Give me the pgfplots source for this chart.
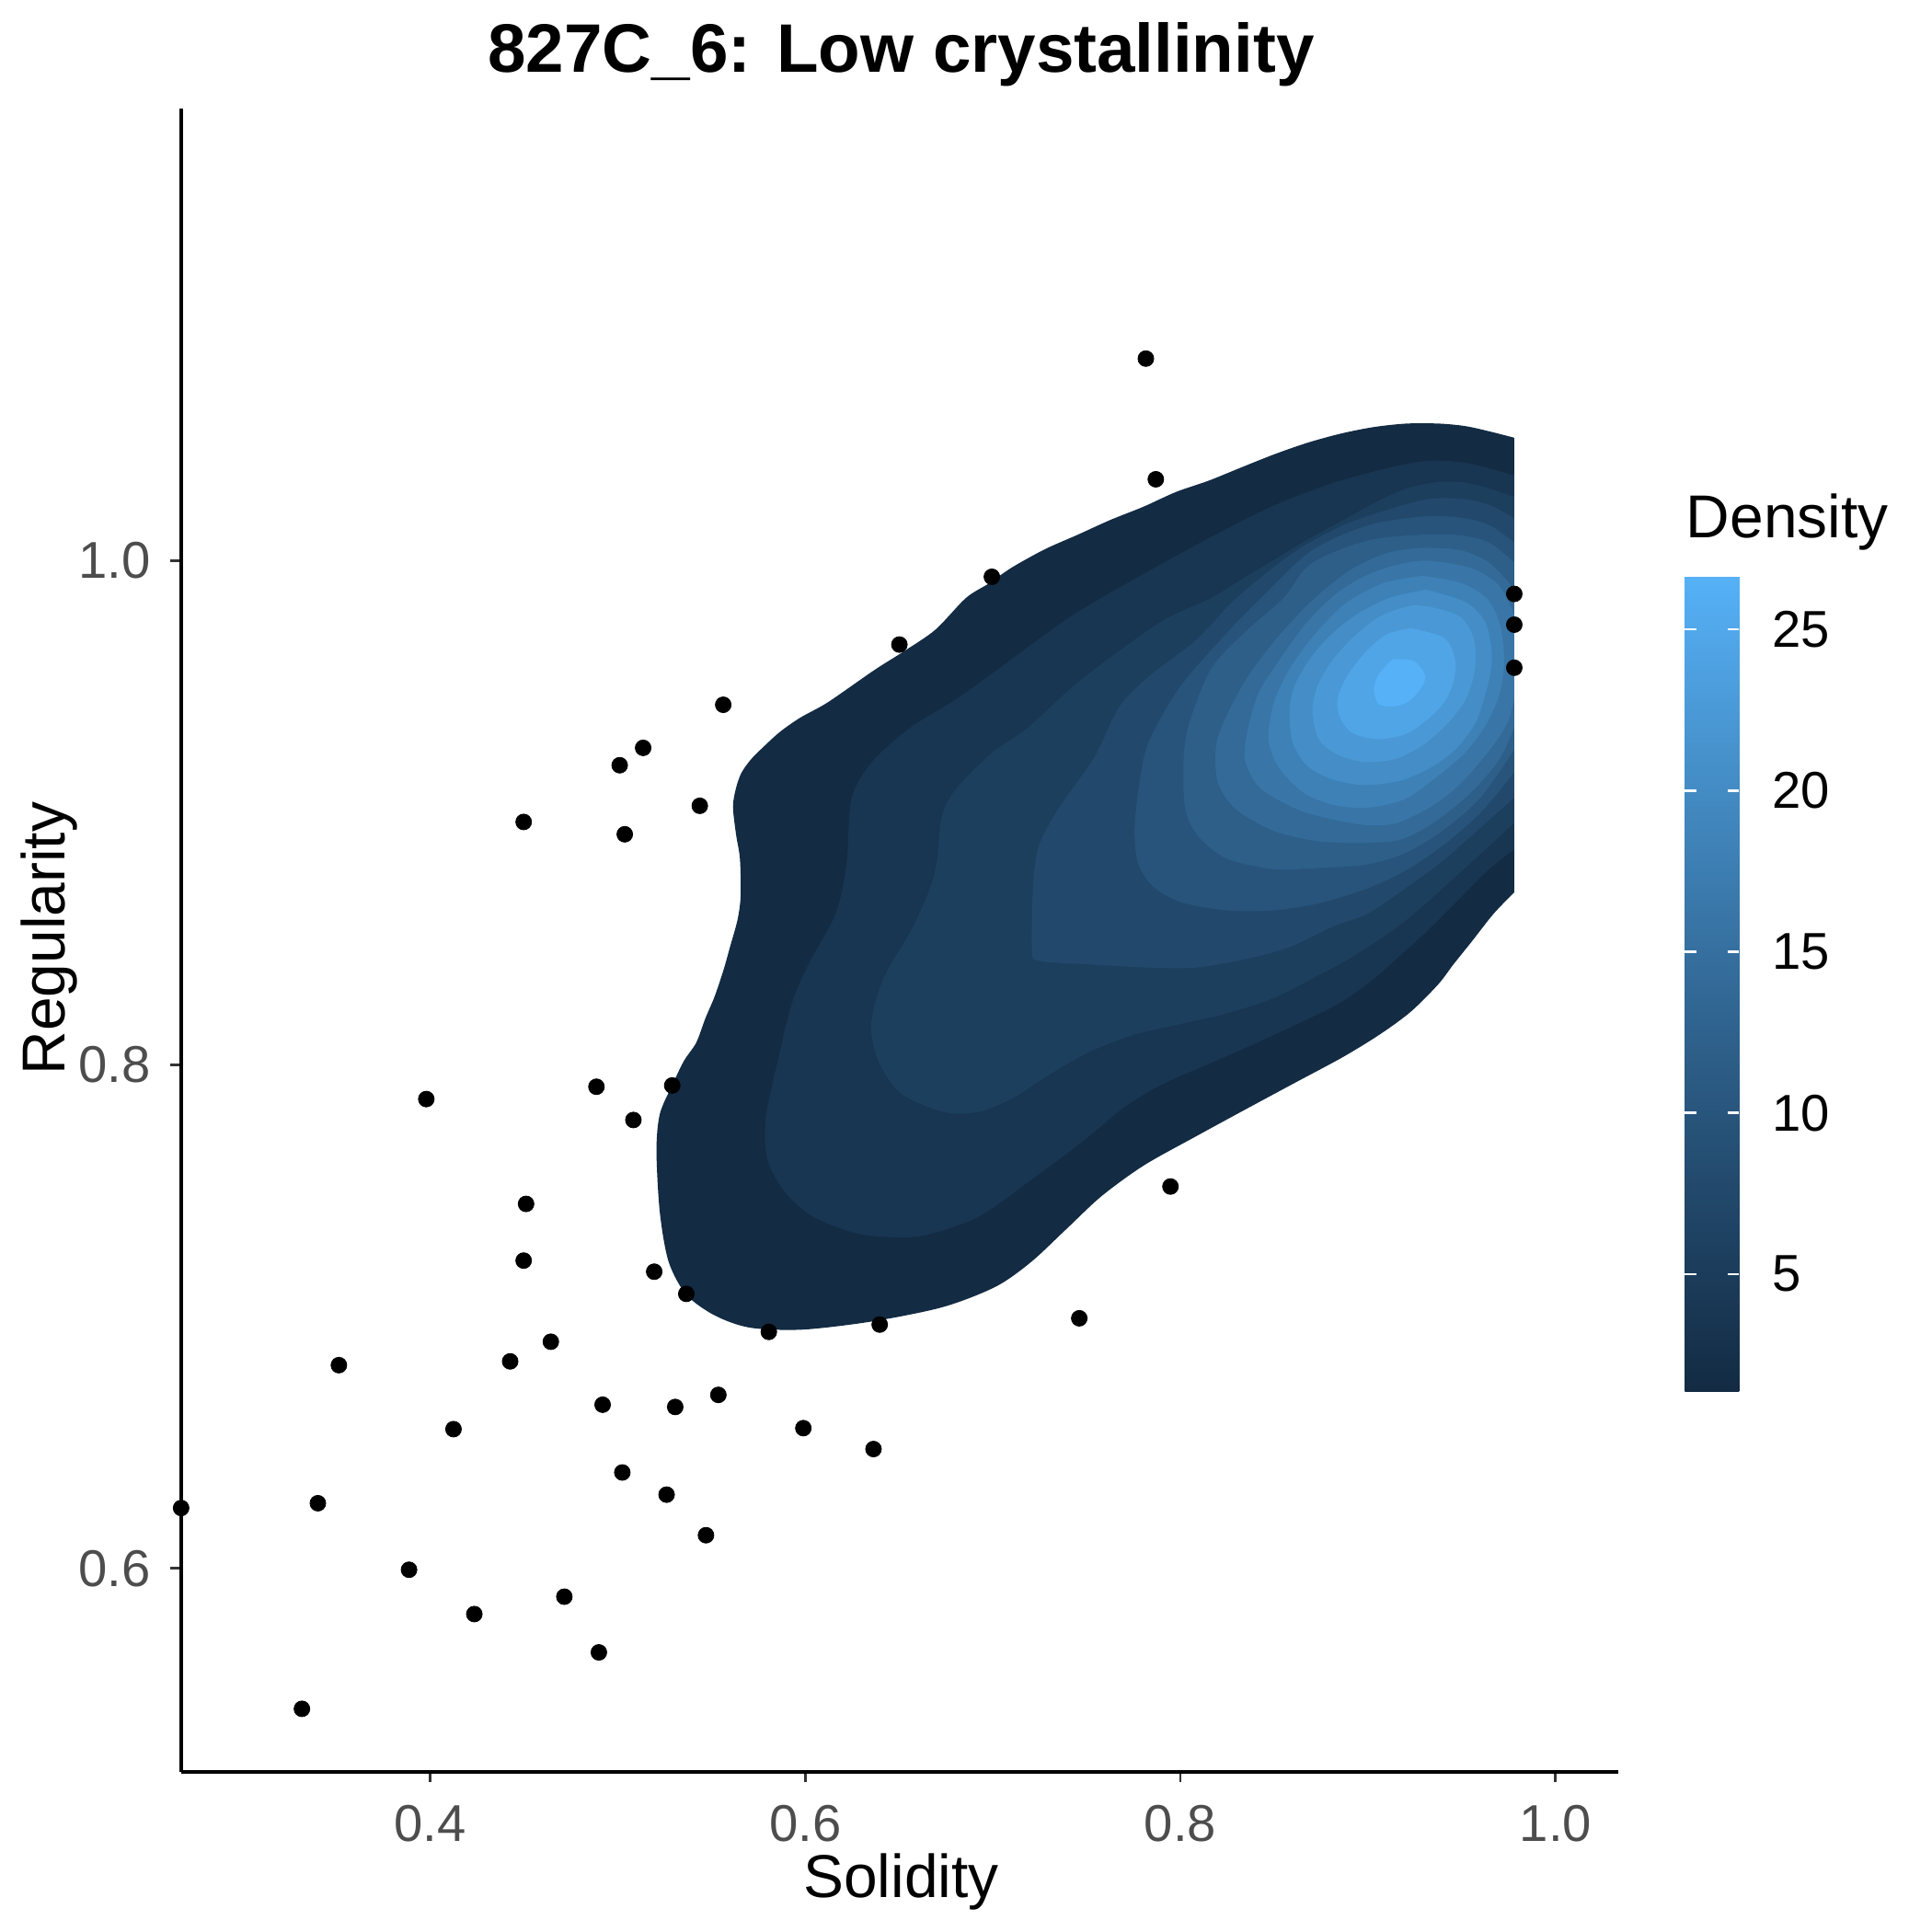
\documentclass[border=0pt]{standalone}
\usepackage{fontspec}
\setmainfont{Liberation Sans}
\usepackage{pgfplots}
\pgfplotsset{compat=1.18}
\definecolor{c0}{RGB}{19,43,67}
\definecolor{c1}{RGB}{24,53,81}
\definecolor{c2}{RGB}{29,63,94}
\definecolor{c3}{RGB}{34,73,108}
\definecolor{c4}{RGB}{40,84,123}
\definecolor{c5}{RGB}{45,95,137}
\definecolor{c6}{RGB}{51,106,152}
\definecolor{c7}{RGB}{57,118,167}
\definecolor{c8}{RGB}{62,129,183}
\definecolor{c9}{RGB}{68,141,198}
\definecolor{c10}{RGB}{74,153,214}
\definecolor{c11}{RGB}{80,165,231}
\definecolor{c12}{RGB}{86,177,247}
\definecolor{grey30}{RGB}{77,77,77}
\definecolor{grey20}{RGB}{51,51,51}
\begin{document}
\begin{tikzpicture}
\path[use as bounding box] (0,0) rectangle (504bp,504bp);
\begin{axis}[
  at={(47.25bp,41.79bp)}, anchor=south west,
  scale only axis, width=374.79bp, height=433.93bp,
  xmin=0.2673, xmax=1.0332, ymin=0.5193, ymax=1.1795,
  axis lines=left, axis line style={-, line width=0.9bp, black},
  axis on top,
  xtick={0.4,0.6,0.8,1.0}, xticklabels={0.4,0.6,0.8,1.0},
  ytick={0.6,0.8,1.0}, yticklabels={0.6,0.8,1.0},
  tick align=outside, major tick length=2.75bp,
  tick style={line width=0.7bp, color=grey20},
  xticklabel style={anchor=base, inner sep=0pt, yshift=-15.4bp, font=\fontsize{13.5bp}{13.5bp}\selectfont, text=grey30},
  yticklabel style={anchor=east, inner sep=0pt, xshift=-5.1bp, font=\fontsize{13.5bp}{13.5bp}\selectfont, text=grey30},
  clip=true,
  colormap={gg}{rgb255=(19,43,67) rgb255=(34,73,108) rgb255=(51,106,152) rgb255=(68,141,198) rgb255=(86,177,247)},
  point meta min=1.37, point meta max=26.64,
  colorbar,
  colorbar style={
    at={(parent axis.south east)}, anchor=south west,
    xshift=9.0bp, yshift=99.32bp,
    scale only axis, width=14.14bp, height=212.5bp,
    axis line style={draw=none},
    axis on top,
    ytick={5,10,15,20,25}, yticklabels={5,10,15,20,25},
    ytick pos=both, yticklabel pos=right,
    tick align=inside, major tick length=2.9bp,
    major tick style={white, line width=0.6bp},
    yticklabel style={anchor=west, inner sep=0pt, xshift=8.4bp, font=\fontsize{13.5bp}{13.5bp}\selectfont, text=black},
  },
]
% scatter points (drawn first, the density covers them)
\addplot[only marks, mark=*, mark size=2.05bp, mark options={fill=black, draw=black, line width=0.2bp}] coordinates {
(0.7816,1.0802) (0.7869,1.0323) (0.6995,0.9936) (0.6502,0.9667) (0.5563,0.9428)
(0.5136,0.9257) (0.5011,0.9188) (0.5438,0.9027) (0.4499,0.8963) (0.5038,0.8914)
(0.978,0.9868) (0.978,0.9746) (0.978,0.9575)
(0.3980,0.7863) (0.4887,0.7912) (0.5084,0.7780) (0.5291,0.7917) (0.4512,0.7447)
(0.4499,0.7222) (0.5195,0.7178) (0.5366,0.7090) (0.7947,0.7516) (0.7461,0.6993)
(0.6397,0.6968) (0.5806,0.6939) (0.4644,0.6900) (0.4427,0.6822) (0.3514,0.6807)
(0.4920,0.6650) (0.5307,0.6641) (0.5537,0.6689) (0.4125,0.6553) (0.5990,0.6557)
(0.6364,0.6474) (0.5025,0.6381) (0.3402,0.6259) (0.5261,0.6293) (0.2673,0.6240)
(0.5471,0.6132) (0.3888,0.5995) (0.4236,0.5819) (0.4716,0.5888) (0.4900,0.5667)
(0.3317,0.5443)
};
% level 1
\addplot[draw=none, fill=c0, smooth, tension=0.5] coordinates {
(0.9779,1.0488) (0.9642,1.0514) (0.9519,1.0534) (0.9379,1.0544) (0.9204,1.0544) (0.9029,1.0530)
(0.8854,1.0504) (0.8678,1.0468) (0.8504,1.0423) (0.8328,1.0371) (0.8153,1.0318) (0.7978,1.0273)
(0.7803,1.0214) (0.7628,1.0162) (0.7453,1.0103) (0.7277,1.0045) (0.7102,0.9973) (0.6980,0.9910)
(0.6857,0.9852) (0.6694,0.9726) (0.6530,0.9642) (0.6367,0.9565) (0.6121,0.9438) (0.5974,0.9377)
(0.5868,0.9322) (0.5786,0.9267) (0.5713,0.9213) (0.5660,0.9158) (0.5631,0.9097) (0.5615,0.9024)
(0.5631,0.8915) (0.5652,0.8817) (0.5656,0.8671) (0.5639,0.8574) (0.5598,0.8464) (0.5566,0.8379)
(0.5517,0.8270) (0.5468,0.8184) (0.5419,0.8087) (0.5353,0.8014) (0.5291,0.7918) (0.5225,0.7804)
(0.5207,0.7658) (0.5225,0.7413) (0.5272,0.7217) (0.5366,0.7087) (0.5516,0.7005) (0.5704,0.6956)
(0.5985,0.6948) (0.6361,0.6981) (0.6736,0.7038) (0.7017,0.7119) (0.7205,0.7217) (0.7392,0.7347)
(0.7580,0.7478) (0.7806,0.7600) (0.8083,0.7715) (0.8342,0.7820) (0.8604,0.7925) (0.8867,0.8030)
(0.9064,0.8120) (0.9227,0.8209) (0.9374,0.8318) (0.9458,0.8400) (0.9554,0.8489) (0.9669,0.8598)
(0.9779,0.8683)
} -- cycle;
% level 2
\addplot[draw=none, fill=c1, smooth, tension=0.5] coordinates {
(0.978,1.0338) (0.9554,1.0384) (0.9379,1.0397) (0.9204,1.0384) (0.8854,1.0318) (0.8504,1.0221)
(0.8153,1.0090) (0.7803,0.9947) (0.7453,0.9797) (0.7266,0.9700) (0.7102,0.9610) (0.6900,0.9500)
(0.6775,0.9436) (0.6565,0.9340) (0.6361,0.9206) (0.6248,0.9059) (0.6220,0.8798) (0.6164,0.8602)
(0.6023,0.8407) (0.5929,0.8244) (0.5854,0.8016) (0.5789,0.7787) (0.5798,0.7624) (0.5892,0.7494)
(0.6042,0.7396) (0.6267,0.7331) (0.6455,0.7315) (0.6643,0.7323) (0.6924,0.7396) (0.7206,0.7543)
(0.7488,0.7700) (0.7700,0.7830) (0.7900,0.7920) (0.8165,0.8007) (0.8410,0.8087) (0.8655,0.8172)
(0.8851,0.8245) (0.9015,0.8330) (0.9146,0.8416) (0.9309,0.8525) (0.9473,0.8647) (0.9636,0.8769)
(0.978,0.8854)
} -- cycle;
% level 3
\addplot[draw=none, fill=c2, smooth, tension=0.5] coordinates {
(0.978,1.0253) (0.9554,1.0306) (0.9379,1.0312) (0.9204,1.0286) (0.9029,1.0227) (0.8854,1.0155)
(0.8679,1.0084) (0.8503,1.0005) (0.8328,0.9927) (0.8165,0.9852) (0.7920,0.9768) (0.7674,0.9642)
(0.7429,0.9502) (0.7184,0.9335) (0.7000,0.9240) (0.6810,0.9100) (0.6730,0.8990) (0.6700,0.8800)
(0.6661,0.8692) (0.6568,0.8537) (0.6417,0.8342) (0.6352,0.8162) (0.6389,0.8016) (0.6511,0.7885)
(0.6736,0.7812) (0.6924,0.7812) (0.7112,0.7869) (0.7282,0.7951) (0.7511,0.8049) (0.7756,0.8119)
(0.8001,0.8161) (0.8247,0.8203) (0.8492,0.8262) (0.8700,0.8340) (0.8900,0.8420) (0.9146,0.8540)
(0.9309,0.8640) (0.9473,0.8750) (0.9636,0.8860) (0.978,0.8960)
} -- cycle;
% level 4
\addplot[draw=none, fill=c3, smooth, tension=0.5] coordinates {
(0.978,1.0168) (0.9650,1.0220) (0.9500,1.0245) (0.9292,1.0240) (0.8900,1.0150) (0.8600,1.0030)
(0.8300,0.9852) (0.8083,0.9684) (0.7838,0.9544) (0.7674,0.9419) (0.7544,0.9223) (0.7348,0.9013)
(0.7249,0.8874) (0.7217,0.8734) (0.7209,0.8454) (0.7249,0.8412) (0.7511,0.8398) (0.7838,0.8385)
(0.8083,0.8385) (0.8328,0.8416) (0.8573,0.8464) (0.8819,0.8550) (0.9000,0.8600) (0.9200,0.8700)
(0.9400,0.8810) (0.9600,0.8940) (0.978,0.9060)
} -- cycle;
% level 5
\addplot[draw=none, fill=c4, smooth, tension=0.5] coordinates {
(0.978,1.0071) (0.9650,1.0140) (0.9500,1.0170) (0.9292,1.0175) (0.9000,1.0140) (0.8700,1.0040)
(0.8430,0.9852) (0.8247,0.9712) (0.8001,0.9502) (0.7838,0.9293) (0.7789,0.9153) (0.7756,0.8943)
(0.7773,0.8804) (0.7850,0.8710) (0.8001,0.8645) (0.8247,0.8612) (0.8492,0.8612) (0.8737,0.8640)
(0.9000,0.8700) (0.9200,0.8770) (0.9400,0.8870) (0.9600,0.9000) (0.978,0.9160)
} -- cycle;
% level 6
\addplot[draw=none, fill=c5, smooth, tension=0.5] coordinates {
(0.978,0.9992) (0.9650,1.0070) (0.9500,1.0100) (0.9292,1.0103) (0.9000,1.0080) (0.8700,0.9990)
(0.8550,0.9852) (0.8350,0.9720) (0.8165,0.9572) (0.8051,0.9363) (0.8018,0.9223) (0.8026,0.9013)
(0.8100,0.8902) (0.8247,0.8818) (0.8492,0.8776) (0.8737,0.8780) (0.9000,0.8795) (0.9200,0.8840)
(0.9400,0.8930) (0.9600,0.9060) (0.978,0.9250)
} -- cycle;
% level 7
\addplot[draw=none, fill=c6, smooth, tension=0.5] coordinates {
(0.978,0.9888) (0.9650,0.9990) (0.9500,1.0040) (0.9292,1.0051) (0.9100,1.0030) (0.8900,0.9960)
(0.8700,0.9840) (0.8500,0.9680) (0.8328,0.9502) (0.8198,0.9293) (0.8198,0.9125) (0.8296,0.9013)
(0.8492,0.8929) (0.8700,0.8890) (0.8900,0.8880) (0.9160,0.8890) (0.9350,0.8960) (0.9550,0.9080)
(0.9700,0.9210) (0.978,0.9340)
} -- cycle;
% level 8
\addplot[draw=none, fill=c7, smooth, tension=0.5] coordinates {
(0.978,0.9784) (0.9700,0.9900) (0.9550,0.9970) (0.9292,1.0000) (0.9050,0.9960) (0.8850,0.9880)
(0.8680,0.9760) (0.8541,0.9620) (0.8420,0.9480) (0.8361,0.9335) (0.8345,0.9209) (0.8426,0.9097)
(0.8623,0.9013) (0.8819,0.8972) (0.9000,0.8950) (0.9160,0.8960) (0.9350,0.9030) (0.9500,0.9120)
(0.9650,0.9250) (0.9740,0.9350) (0.978,0.9450)
} -- cycle;
% level 9
\addplot[draw=none, fill=c8, smooth, tension=0.5] coordinates {
(0.9292,0.9940) (0.9500,0.9910) (0.9640,0.9845) (0.9705,0.9740) (0.9726,0.9600) (0.9700,0.9470)
(0.9630,0.9350) (0.9520,0.9240) (0.9380,0.9150) (0.9200,0.9055) (0.9000,0.9020) (0.8819,0.9030)
(0.8655,0.9080) (0.8524,0.9180) (0.8470,0.9293) (0.8500,0.9440) (0.8590,0.9580) (0.8720,0.9710)
(0.8880,0.9830) (0.9080,0.9910) (0.9292,0.9940)
} -- cycle;
% level 10
\addplot[draw=none, fill=c9, smooth, tension=0.5] coordinates {
(0.9309,0.9885) (0.9519,0.9836) (0.9624,0.9758) (0.9660,0.9640) (0.9650,0.9540) (0.9610,0.9430)
(0.9571,0.9353) (0.9473,0.9255) (0.9342,0.9182) (0.9178,0.9128) (0.8982,0.9109) (0.8802,0.9134)
(0.8672,0.9188) (0.8598,0.9280) (0.8582,0.9401) (0.8606,0.9499) (0.8688,0.9608) (0.8802,0.9706)
(0.8949,0.9791) (0.9113,0.9852) (0.9309,0.9885)
} -- cycle;
% level 11
\addplot[draw=none, fill=c10, smooth, tension=0.5] coordinates {
(0.9342,0.9815) (0.9489,0.9779) (0.9563,0.9693) (0.9571,0.9572) (0.9522,0.9450) (0.9423,0.9353)
(0.9293,0.9268) (0.9146,0.9213) (0.8982,0.9201) (0.8835,0.9231) (0.8737,0.9292) (0.8704,0.9401)
(0.8729,0.9499) (0.8802,0.9596) (0.8917,0.9693) (0.9064,0.9779) (0.9227,0.9821) (0.9342,0.9815)
} -- cycle;
% level 12
\addplot[draw=none, fill=c11, smooth, tension=0.5] coordinates {
(0.9227,0.9732) (0.9407,0.9693) (0.9464,0.9608) (0.9456,0.9523) (0.9407,0.9438) (0.9309,0.9365)
(0.9195,0.9310) (0.9047,0.9292) (0.8917,0.9316) (0.8851,0.9377) (0.8838,0.9450) (0.8884,0.9535)
(0.8982,0.9633) (0.9097,0.9706) (0.9227,0.9732)
} -- cycle;
% level 13
\addplot[draw=none, fill=c12, smooth, tension=0.5] coordinates {
(0.9129,0.9608) (0.9244,0.9602) (0.9306,0.9541) (0.9276,0.9487) (0.9211,0.9438) (0.9129,0.9420)
(0.9056,0.9432) (0.9031,0.9487) (0.9056,0.9547) (0.9129,0.9608)
} -- cycle;
\end{axis}
\node[anchor=base, inner sep=0pt, font=\bfseries\fontsize{17.9bp}{17.9bp}\selectfont] at (235.1bp,485.2bp) {827C\_6: Low crystallinity};
\node[anchor=base, inner sep=0pt, font=\fontsize{15.8bp}{15.8bp}\selectfont] at (235.1bp,9.0bp) {Solidity};
\node[anchor=base, inner sep=0pt, rotate=90, font=\fontsize{15.8bp}{15.8bp}\selectfont] at (17.0bp,259.2bp) {Regularity};
\node[anchor=base west, inner sep=0pt, font=\fontsize{15.8bp}{15.8bp}\selectfont] at (439.7bp,363.7bp) {Density};
\end{tikzpicture}
\end{document}
